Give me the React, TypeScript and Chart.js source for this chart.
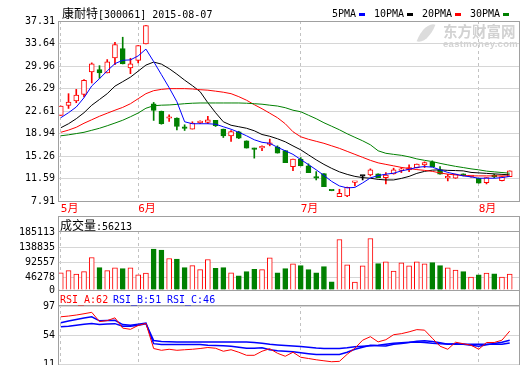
import React, { useEffect, useRef } from 'react';
import { Chart, registerables } from 'chart.js';

Chart.register(...registerables);

// ---- data ----
const monthLabels = ['5月', '6月', '7月', '8月'];
const monthIdx = [0, 10, 31, 54];
const priceTicks = [37.31, 33.64, 29.96, 26.29, 22.61, 18.94, 15.26, 11.59, 7.91];
const volTicks = [185113, 138835, 92557, 46278, 0];
const rsiTicks = [97, 54, 11];

const open = [21.89, 23.52, 24.24, 25.32, 28.99, 29.37, 28.83, 31.28, 32.81, 29.65, 30.89, 33.58, 23.80, 22.54, 21.42, 21.46, 19.85, 19.66, 20.72, 20.74, 21.07, 19.66, 18.56, 19.22, 17.74, 16.43, 16.60, 17.15, 16.71, 16.15, 13.53, 14.75, 13.65, 11.72, 12.40, 9.62, 8.62, 8.74, 10.95, 11.98, 12.17, 12.34, 11.73, 12.34, 12.90, 12.99, 13.37, 13.81, 14.25, 12.99, 11.70, 11.63, 12.34, 11.90, 11.63, 10.91, 12.00, 11.24, 11.90];
const close = [23.42, 24.08, 25.23, 27.62, 30.30, 28.83, 30.63, 33.46, 30.30, 30.30, 33.30, 36.57, 22.70, 20.53, 21.50, 20.08, 19.78, 20.64, 20.80, 21.18, 20.20, 18.56, 19.26, 18.18, 16.55, 16.35, 16.68, 17.25, 15.73, 14.19, 14.75, 13.65, 12.55, 11.65, 10.26, 9.58, 9.18, 10.16, 10.99, 11.98, 12.99, 11.73, 12.13, 12.99, 12.99, 13.37, 13.93, 14.19, 13.53, 12.29, 11.76, 12.29, 12.01, 11.95, 10.82, 11.73, 11.90, 11.90, 12.83];
const high = [23.42, 25.44, 26.14, 27.73, 30.47, 30.02, 31.01, 33.84, 34.66, 31.22, 33.30, 36.57, 24.01, 22.60, 22.00, 21.50, 20.36, 20.85, 21.02, 21.72, 21.07, 19.66, 19.43, 19.30, 17.74, 16.55, 16.92, 18.02, 16.92, 16.15, 14.75, 15.01, 13.98, 12.71, 12.40, 9.62, 9.83, 10.20, 10.99, 12.01, 13.16, 12.34, 12.55, 13.27, 13.37, 13.81, 13.95, 14.30, 14.47, 13.53, 12.29, 12.30, 12.34, 12.10, 11.63, 11.73, 12.30, 11.90, 12.83];
const low = [21.89, 23.03, 23.96, 24.90, 27.19, 27.94, 28.83, 30.19, 30.30, 28.71, 30.47, 33.58, 21.07, 20.45, 20.90, 19.54, 19.43, 19.66, 20.53, 20.53, 20.08, 18.28, 17.63, 18.10, 16.55, 14.91, 16.15, 16.92, 15.73, 14.19, 12.88, 13.65, 12.55, 11.35, 10.26, 9.58, 8.62, 8.60, 10.37, 11.35, 12.01, 11.73, 10.70, 12.30, 12.55, 12.71, 13.30, 13.37, 13.53, 12.29, 11.19, 11.60, 12.01, 11.80, 10.82, 10.70, 11.70, 11.20, 11.90];
const volume = [60100, 66400, 56100, 63300, 106900, 75700, 66400, 74800, 72600, 74800, 53900, 59200, 132700, 129600, 103800, 101600, 75700, 82000, 69500, 100600, 73500, 75700, 60100, 50800, 63300, 70400, 69500, 105900, 60100, 72600, 87200, 82000, 69500, 60100, 78800, 32100, 162000, 84100, 31200, 81000, 165100, 88200, 93500, 65400, 90400, 81000, 93500, 87200, 91300, 82000, 74800, 68600, 63300, 46700, 53900, 59200, 57000, 46700, 56213];

const ma5 = [21.51, 22.33, 23.26, 24.78, 26.70, 27.89, 29.16, 30.35, 30.89, 30.96, 31.61, 32.72, 30.68, 28.55, 26.42, 24.13, 20.85, 20.53, 20.53, 20.53, 20.45, 20.04, 19.63, 19.13, 18.56, 17.91, 17.50, 17.33, 16.68, 16.11, 15.53, 14.68, 13.86, 13.00, 12.09, 11.11, 10.37, 10.05, 10.13, 10.86, 11.68, 12.06, 12.29, 12.45, 12.83, 13.08, 13.40, 13.53, 13.44, 13.00, 12.58, 12.29, 12.01, 11.85, 11.63, 11.63, 11.63, 11.73, 11.93];
const ma10 = [19.87, 20.53, 21.35, 22.33, 23.55, 24.49, 25.44, 26.67, 27.40, 28.14, 29.12, 30.11, 30.60, 30.27, 29.53, 28.63, 27.65, 26.75, 25.77, 23.96, 22.33, 20.85, 20.28, 20.04, 19.79, 19.38, 18.77, 18.48, 18.07, 17.58, 16.91, 16.27, 15.45, 14.63, 13.89, 13.24, 12.67, 12.26, 11.93, 11.73, 11.63, 11.44, 11.35, 11.35, 11.60, 11.93, 12.42, 12.75, 12.95, 13.00, 12.91, 12.88, 12.83, 12.58, 12.50, 12.42, 12.34, 12.26, 12.18];
const ma20 = [19.13, 19.49, 19.95, 20.61, 21.18, 21.75, 22.25, 22.74, 23.20, 23.80, 24.62, 25.44, 25.93, 26.14, 26.26, 26.26, 26.26, 26.21, 26.09, 26.01, 25.85, 25.68, 25.44, 24.95, 24.37, 23.64, 22.98, 22.25, 21.51, 20.53, 19.22, 18.40, 17.99, 17.66, 17.33, 16.92, 16.51, 16.02, 15.53, 15.04, 14.55, 14.14, 13.89, 13.65, 13.40, 13.21, 13.04, 12.91, 12.75, 12.50, 12.29, 12.17, 12.09, 12.01, 12.01, 12.01, 12.01, 12.01, 12.01];
const ma30 = [18.56, 18.72, 18.92, 19.13, 19.46, 19.79, 20.20, 20.64, 21.10, 21.67, 22.28, 23.06, 23.47, 23.56, 23.60, 23.69, 23.80, 23.88, 23.92, 23.92, 23.92, 23.92, 23.92, 23.92, 23.88, 23.80, 23.72, 23.56, 23.42, 23.15, 22.74, 22.49, 21.92, 21.35, 20.69, 20.12, 19.54, 18.89, 18.31, 17.74, 17.09, 16.11, 15.70, 15.53, 15.37, 15.12, 14.79, 14.55, 14.35, 14.06, 13.81, 13.57, 13.37, 13.16, 13.00, 12.79, 12.67, 12.56, 12.45];

const rsiA = [81.1, 82.2, 83.7, 85.6, 87.7, 74.0, 75.5, 79.6, 64.4, 62.6, 68.4, 71.3, 34.3, 31.7, 33.2, 31.7, 32.5, 33.2, 34.3, 35.8, 34.7, 30.3, 32.5, 28.8, 24.3, 24.3, 30.3, 34.0, 27.3, 22.9, 28.8, 21.4, 19.6, 17.7, 16.2, 14.8, 15.4, 25.8, 34.7, 46.6, 51.8, 44.1, 47.3, 54.7, 56.2, 58.9, 62.2, 61.4, 49.5, 37.7, 33.2, 43.6, 41.4, 39.2, 33.2, 43.2, 43.2, 46.6, 60.0];
const rsiB = [72.2, 74.8, 77.0, 79.2, 81.1, 75.2, 75.5, 75.9, 69.6, 68.8, 70.3, 71.8, 41.5, 40.2, 40.2, 40.2, 40.2, 40.2, 40.2, 39.2, 38.9, 38.4, 37.7, 36.2, 34.7, 34.7, 35.5, 32.5, 31.0, 30.3, 29.5, 28.0, 26.6, 25.4, 25.4, 25.4, 25.4, 28.8, 33.2, 36.2, 39.2, 38.4, 37.9, 40.6, 41.7, 43.2, 45.1, 45.8, 44.8, 42.9, 40.6, 41.4, 40.6, 39.2, 37.7, 39.9, 41.7, 43.6, 46.6];
const rsiC = [66.3, 67.3, 68.8, 70.0, 71.3, 69.6, 70.3, 71.0, 67.3, 67.3, 68.8, 71.0, 46.1, 44.8, 44.4, 44.1, 44.1, 44.1, 44.1, 44.1, 44.1, 44.1, 44.1, 44.1, 43.8, 43.2, 42.1, 40.6, 39.6, 38.7, 37.9, 37.2, 36.2, 35.0, 34.3, 34.3, 34.3, 35.5, 37.0, 37.7, 38.4, 39.2, 40.6, 42.1, 42.9, 43.6, 44.1, 43.3, 42.1, 41.4, 41.1, 40.6, 40.6, 40.6, 40.6, 40.6, 40.6, 40.6, 42.6];

// ---- styling ----
const MONO = "'DejaVu Sans Mono', 'Noto Sans CJK SC', monospace";
const CJK = "'Noto Sans CJK SC', 'DejaVu Sans', sans-serif";
const RED = '#ff0000', GREEN = '#008000', BLUE = '#0000ff', BLACK = '#000000';
const FRAME = '#a0a0a0', GRID = '#d6d6d6', VGRID = '#c2c2c2';
const X_MIN = -0.36, X_MAX = 59.33;
const VOL_MIN = 7200, VOL_MAX = 188000;
const RSI_MIN = 10, RSI_MAX = 98.5;

const idx = open.map((_, i) => i);
const candleColor = idx.map(i => (close[i] > open[i] ? RED : close[i] < open[i] ? GREEN : BLACK));
const bodyFill = idx.map(i => (close[i] > open[i] ? '#ffffff' : candleColor[i]));
const volColor = idx.map(i => (close[i] >= open[i] ? RED : GREEN));
const volFill = idx.map(i => (close[i] >= open[i] ? '#ffffff' : GREEN));
const series = (arr: number[]) => arr.map((v, i) => ({ x: i, y: v }));

function framePlugin(header: number) {
  return {
    id: 'frame',
    afterDraw(chart: any) {
      const { ctx, chartArea: a } = chart;
      ctx.save();
      ctx.strokeStyle = FRAME;
      ctx.lineWidth = 1;
      const l = Math.round(a.left) + 0.5;
      const r = Math.round(a.right) - 0.5;
      const t = Math.round(a.top - header) + 0.5;
      const b = Math.round(a.bottom) + 0.5;
      ctx.strokeRect(l, t, r - l, b - t);
      if (header) {
        const y = Math.round(a.top) + 0.5;
        ctx.beginPath();
        ctx.moveTo(l, y);
        ctx.lineTo(r, y);
        ctx.stroke();
      }
      ctx.restore();
    },
  };
}

function xScale(labels: boolean) {
  return {
    type: 'linear',
    min: X_MIN,
    max: X_MAX,
    offset: false,
    afterBuildTicks: (s: any) => {
      s.ticks = monthIdx.map(v => ({ value: v }));
    },
    afterFit: (s: any) => {
      s.height = labels ? 15 : 0;
      s.paddingLeft = 0;
      s.paddingRight = 0;
    },
    grid: { display: true, offset: false, color: VGRID, lineWidth: 1, drawTicks: false },
    border: { display: false, dash: [3, 3] },
    ticks: {
      display: labels,
      autoSkip: false,
      maxRotation: 0,
      align: 'start',
      padding: 2,
      color: RED,
      font: { family: MONO, size: 11 },
      callback: (v: number) => {
        const k = monthIdx.indexOf(v);
        return k >= 0 ? monthLabels[k] : '';
      },
    },
  };
}

function yScale(min: number, max: number, ticks: number[], fmt: (v: number) => string) {
  return {
    type: 'linear',
    position: 'left',
    min,
    max,
    afterBuildTicks: (s: any) => {
      s.ticks = ticks.map(v => ({ value: v }));
    },
    afterFit: (s: any) => {
      s.width = 58;
      s.paddingTop = 0;
      s.paddingBottom = 0;
    },
    grid: { color: GRID, lineWidth: 1, drawTicks: false },
    border: { display: false },
    ticks: { autoSkip: false, padding: 3, color: '#000', font: { family: MONO, size: 10 }, callback: fmt },
  };
}

const baseOptions = (padding: any) => ({
  responsive: false,
  maintainAspectRatio: false,
  animation: false,
  events: [],
  layout: { padding },
  plugins: { legend: { display: false }, tooltip: { enabled: false } },
});

const maLine = (data: number[], color: string, order: number) => ({
  type: 'line',
  data: series(data),
  borderColor: color,
  borderWidth: 1,
  pointRadius: 0,
  fill: false,
  tension: 0,
  order,
});

export default function App() {
  const mainRef = useRef<HTMLCanvasElement>(null);
  const volRef = useRef<HTMLCanvasElement>(null);
  const rsiRef = useRef<HTMLCanvasElement>(null);

  useEffect(() => {
    const charts: any[] = [];
    charts.push(
      new Chart(mainRef.current as HTMLCanvasElement, {
        type: 'bar',
        data: {
          datasets: [
            maLine(ma30, GREEN, 1),
            maLine(ma20, RED, 1),
            maLine(ma10, BLACK, 1),
            maLine(ma5, BLUE, 0),
            {
              type: 'bar',
              data: idx.map(i => ({ x: i, y: [Math.min(open[i], close[i]), Math.max(open[i], close[i])] })),
              backgroundColor: bodyFill,
              borderColor: candleColor,
              borderWidth: 1,
              borderSkipped: false,
              barThickness: 5,
              minBarLength: 1.5,
              grouped: false,
              order: 5,
            },
            {
              type: 'bar',
              data: idx.map(i => ({ x: i, y: [low[i], high[i]] })),
              backgroundColor: candleColor,
              borderWidth: 0,
              barThickness: 1,
              grouped: false,
              order: 6,
            },
          ],
        } as any,
        options: {
          ...baseOptions({ top: 21, right: 0, bottom: 0, left: 0 }),
          scales: {
            x: xScale(true),
            y: yScale(7.91, 37.31, priceTicks, (v: number) => Number(v).toFixed(2)),
          },
        } as any,
        plugins: [framePlugin(0)],
      })
    );

    const volTickVals = volTicks.map(v => Math.max(v, VOL_MIN));
    charts.push(
      new Chart(volRef.current as HTMLCanvasElement, {
        type: 'bar',
        data: {
          datasets: [
            {
              data: series(volume),
              backgroundColor: volFill,
              borderColor: volColor,
              borderWidth: 1,
              barThickness: 5,
              base: VOL_MIN,
              grouped: false,
            },
          ],
        } as any,
        options: {
          ...baseOptions({ top: 15, right: 0, bottom: 7, left: 0 }),
          scales: {
            x: xScale(false),
            y: yScale(VOL_MIN, VOL_MAX, volTickVals, (v: number) => (v <= VOL_MIN ? '0' : String(v))),
          },
        } as any,
        plugins: [framePlugin(15)],
      })
    );

    charts.push(
      new Chart(rsiRef.current as HTMLCanvasElement, {
        type: 'line',
        data: {
          datasets: [
            { data: series(rsiC), borderColor: BLUE, borderWidth: 1.5, pointRadius: 0, fill: false, tension: 0, order: 2 },
            { data: series(rsiB), borderColor: BLUE, borderWidth: 1.5, pointRadius: 0, fill: false, tension: 0, order: 1 },
            { data: series(rsiA), borderColor: RED, borderWidth: 1, pointRadius: 0, fill: false, tension: 0, order: 0 },
          ],
        } as any,
        options: {
          ...baseOptions({ top: 15, right: 0, bottom: 15, left: 0 }),
          scales: {
            x: xScale(false),
            y: yScale(RSI_MIN, RSI_MAX, rsiTicks, (v: number) => String(v)),
          },
        } as any,
        plugins: [framePlugin(15)],
      })
    );

    return () => charts.forEach(c => c.destroy());
  }, []);

  const abs = (left: number, top: number, extra: any = {}) => ({
    position: 'absolute' as const,
    left,
    top,
    whiteSpace: 'nowrap' as const,
    fontFamily: MONO,
    fontSize: 10,
    lineHeight: '12px',
    ...extra,
  });
  const marker = (left: number, color: string) => (
    <div style={{ position: 'absolute', left, top: 12.5, width: 6, height: 3, background: color }} />
  );

  return (
    <div style={{ position: 'fixed', left: 0, top: 0, width: 520, height: 365, overflow: 'hidden', background: '#fff' }}>
      <canvas ref={mainRef} width={520} height={216} style={{ position: 'absolute', left: 0, top: 0 }} />
      <canvas ref={volRef} width={520} height={81} style={{ position: 'absolute', left: 0, top: 216 }} />
      <canvas ref={rsiRef} width={520} height={90} style={{ position: 'absolute', left: 0, top: 290 }} />

      {/* watermark */}
      <div style={{ position: 'absolute', left: 420, top: 22, width: 12, height: 22, borderRadius: '100% 0 100% 0', background: '#dcdcdc', transform: 'rotate(20deg)' }} />
      <div style={{ position: 'absolute', left: 443, top: 23, fontFamily: CJK, fontSize: 14.5, lineHeight: '16px', fontWeight: 700, color: '#d2d2d2', whiteSpace: 'nowrap' }}>东方财富网</div>
      <div style={{ position: 'absolute', left: 443, top: 39, fontFamily: "'Liberation Sans', Arial, sans-serif", fontSize: 9.5, lineHeight: '10px', fontWeight: 700, color: '#d2d2d2', letterSpacing: 0.3, whiteSpace: 'nowrap' }}>eastmoney.com</div>

      {/* title */}
      <div style={abs(62, 7)}>
        <span style={{ fontFamily: CJK, fontSize: 12 }}>康耐特</span>[300061] 2015-08-07
      </div>

      {/* legend */}
      <div style={abs(332, 8)}>5PMA</div>
      {marker(359, BLUE)}
      <div style={abs(374, 8)}>10PMA</div>
      {marker(407, BLACK)}
      <div style={abs(422, 8)}>20PMA</div>
      {marker(455, RED)}
      <div style={abs(470, 8)}>30PMA</div>
      {marker(503, GREEN)}

      {/* volume header */}
      <div style={abs(60, 219)}>
        <span style={{ fontFamily: CJK, fontSize: 12 }}>成交量</span>:56213
      </div>

      {/* RSI header */}
      <div style={abs(60, 294, { color: RED })}>RSI_A:62</div>
      <div style={abs(113, 294, { color: BLUE })}>RSI_B:51</div>
      <div style={abs(167, 294, { color: BLUE })}>RSI_C:46</div>
    </div>
  );
}
